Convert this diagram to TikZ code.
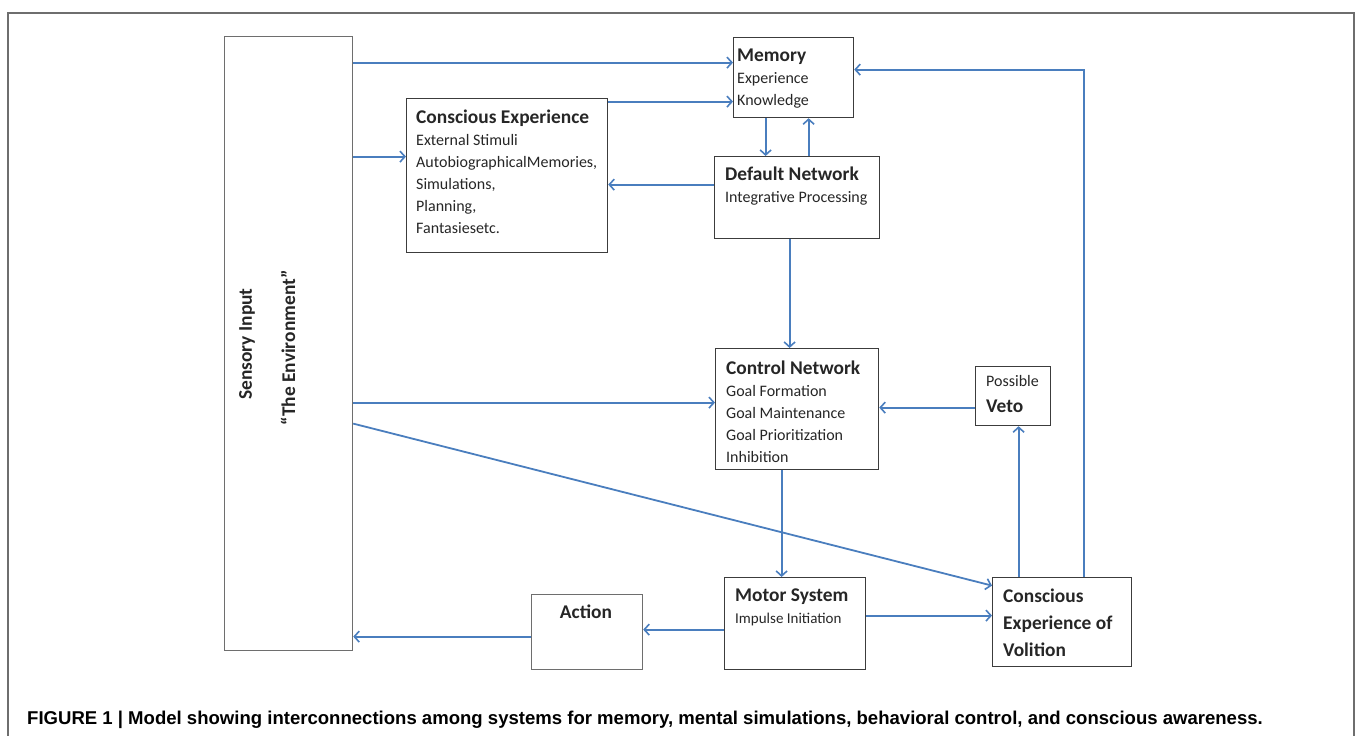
\documentclass[tikz,border=0pt]{standalone}
\usepackage{fontspec}
\setmainfont{Carlito}
\newfontfamily\capfont{Liberation Sans}
\usepackage{tikz}
\usetikzlibrary{calc}
\usetikzlibrary{positioning}
\usetikzlibrary{arrows.meta}

\definecolor{arrowblue}{RGB}{74,126,190}
\definecolor{boxgray}{RGB}{60,60,60}
\definecolor{framegray}{RGB}{110,110,110}

\newcommand{\ttl}{\fontsize{19.4}{22}\selectfont\bfseries}
\newcommand{\bdy}{\fontsize{16}{22}\selectfont}

\begin{document}
\begin{tikzpicture}[x=1pt, y=-1pt,
    box/.style={draw=boxgray, line width=1.2pt, anchor=north west, inner sep=0pt},
    txt/.style={anchor=north west, inner sep=0pt, align=left, text=black!85, font=\bdy},
    arr/.style={draw=arrowblue, line width=1.8pt, -{Straight Barb[length=5pt,width=11pt,line width=1.6pt]}},
    line/.style={draw=arrowblue, line width=1.8pt}]
 \useasboundingbox (0,0) rectangle (1355,736);
 \draw[framegray, line width=1.4pt] (8,745) -- (8,13) -- (1354,13) -- (1354,745);

 % boxes
 \node[box, draw=framegray, minimum width=128pt, minimum height=614pt] (sens) at (224,36) {};
 \node[box, minimum width=120pt, minimum height=80pt] (mem) at (733,37) {};
 \node[box, minimum width=201pt, minimum height=154pt] (cexp) at (406,98) {};
 \node[box, minimum width=165pt, minimum height=82pt] (dnet) at (714,156) {};
 \node[box, minimum width=163pt, minimum height=121pt] (cnet) at (715,348) {};
 \node[box, minimum width=75pt, minimum height=59pt] (veto) at (975,366) {};
 \node[box, minimum width=141pt, minimum height=92pt] (motor) at (724,577) {};
 \node[box, draw=framegray, minimum width=111pt, minimum height=75pt] (action) at (531,594) {};
 \node[box, minimum width=139pt, minimum height=89pt] (volit) at (992,577) {};

 % texts
 \node[rotate=90, inner sep=0pt, text=black!85] (senstxt) at (247,344) {\ttl Sensory Input};
 \node[rotate=90, inner sep=0pt, text=black!85] (envtxt) at (288,348) {\ttl ``The Environment''};
 \node[txt] (memtxt) at (737,49) {\ttl Memory\\ Experience\\ Knowledge};
 \node[txt] (cexptxt) at (416,110) {\ttl Conscious Experience\\ External Stimuli\\
   AutobiographicalMemories,\\ Simulations,\\ Planning,\\ Fantasiesetc.};
 \node[txt] (dnettxt) at (725,167) {\ttl Default Network\\ Integrative Processing};
 \node[txt] (cnettxt) at (726,361) {\ttl Control Network\\ Goal Formation\\
   Goal Maintenance\\ Goal Prioritization\\ Inhibition};
 \node[txt, font={\fontsize{16}{26}\selectfont}] (vetotxt) at (986,375) {Possible\\ \ttl Veto};
 \node[txt] (motortxt) at (735,589) {\ttl Motor System\\ \fontsize{15}{22}\selectfont Impulse Initiation};
 \node[txt, anchor=north] (actiontxt) at (586,605) {\ttl Action};
 \node[txt, font={\fontsize{19.4}{27}\selectfont\bfseries}] (volittxt) at (1003,589) {Conscious\\ Experience of\\ Volition};

 % caption
 \node[anchor=base west, inner sep=0pt] (caption) at (27,724)
   {\capfont\bfseries\fontsize{18.55}{20}\selectfont FIGURE 1 \textbar{} Model showing interconnections among systems for memory, mental simulations, behavioral control, and conscious awareness.};

 % connectors
 \draw[arr] ([yshift=15pt]mem.west -| sens.east) -- ([yshift=15pt]mem.west);
 \draw[arr] ([yshift=-24pt]mem.west -| cexp.east) -- ([yshift=-24pt]mem.west);
 \draw[arr] ([yshift=19pt]cexp.west -| sens.east) -- ([yshift=19pt]cexp.west);
 \draw[arr] ([xshift=-28pt]mem.south) -- ([xshift=-28pt]mem.south |- dnet.north);
 \draw[arr] ([xshift=15pt]mem.south |- dnet.north) -- ([xshift=15pt]mem.south);
 \draw[arr] ([yshift=13pt]dnet.west) -- ([yshift=13pt]dnet.west -| cexp.east);
 \draw[arr] ([xshift=-7.5pt]dnet.south) -- ([xshift=-7.5pt]dnet.south |- cnet.north);
 \draw[arr] ([yshift=6.5pt]cnet.west -| sens.east) -- ([yshift=6.5pt]cnet.west);
 \draw[arr] ([yshift=-11.5pt]veto.west) -- ([yshift=-11.5pt]veto.west -| cnet.east);
 \draw[arr] ([yshift=-80pt]sens.east) -- ([yshift=36.5pt]volit.west);
 \draw[arr] ([xshift=-15.5pt]cnet.south) -- ([xshift=-15.5pt]cnet.south |- motor.north);
 \draw[arr] ([yshift=8pt]motor.east) -- ([yshift=8pt]motor.east -| volit.west);
 \draw[arr] ([yshift=-6pt]motor.west) -- ([yshift=-6pt]motor.west -| action.east);
 \draw[arr] ([yshift=-4.5pt]action.west) -- ([yshift=-4.5pt]action.west -| sens.east);
 \draw[arr] ([xshift=-43.5pt]volit.north) -- ([xshift=-43.5pt]volit.north |- veto.south);
 \draw[arr] ([xshift=21.5pt]volit.north) |- ([yshift=8pt]mem.east);
\end{tikzpicture}
\end{document}
